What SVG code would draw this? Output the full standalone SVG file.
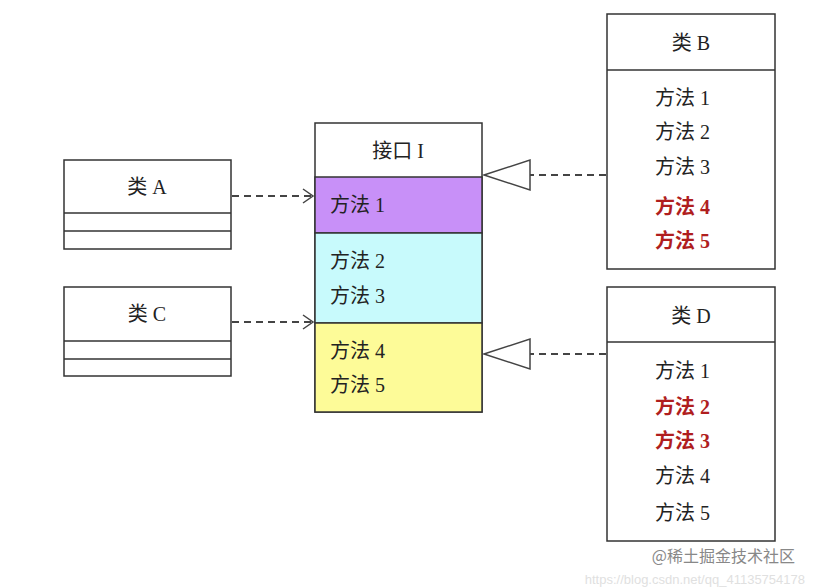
<svg xmlns="http://www.w3.org/2000/svg" width="814" height="588" viewBox="0 0 814 588">
<style>
.b{fill:#fff;stroke:#333;stroke-width:1.5}
.t{font-family:"Liberation Serif","Noto Sans CJK SC",serif;font-size:20px;fill:#222}
.r{fill:#b01e1e;font-weight:bold}
.c{stroke:#444;stroke-width:1.8;stroke-dasharray:7,5;fill:none}
.h{stroke:#444;stroke-width:1.5;fill:#fff}
</style>
<rect width="814" height="588" fill="#fff"/>
<g id="interfaceI">
<rect x="315" y="123" width="167" height="289" class="b"/>
<rect x="315" y="177" width="167" height="56" fill="#c890f8" stroke="#333" stroke-width="1.5"/>
<rect x="315" y="233" width="167" height="90" fill="#c8fafc" stroke="#333" stroke-width="1.5"/>
<rect x="315" y="323" width="167" height="89" fill="#fdfb98" stroke="#333" stroke-width="1.5"/>
<text x="398" y="158" class="t" text-anchor="middle">接口 I</text>
<text x="330" y="212" class="t">方法 1</text>
<text x="330" y="268" class="t">方法 2</text>
<text x="330" y="303" class="t">方法 3</text>
<text x="330" y="358" class="t">方法 4</text>
<text x="330" y="392" class="t">方法 5</text>
</g>
<g id="classA">
<rect x="64" y="160" width="167" height="89" class="b"/>
<line x1="64" y1="213" x2="231" y2="213" stroke="#333" stroke-width="1.5"/>
<line x1="64" y1="231" x2="231" y2="231" stroke="#333" stroke-width="1.5"/>
<text x="147" y="194" class="t" text-anchor="middle">类 A</text>
</g>
<g id="classC">
<rect x="64" y="287" width="167" height="89" class="b"/>
<line x1="64" y1="341" x2="231" y2="341" stroke="#333" stroke-width="1.5"/>
<line x1="64" y1="359" x2="231" y2="359" stroke="#333" stroke-width="1.5"/>
<text x="147" y="321" class="t" text-anchor="middle">类 C</text>
</g>
<g id="classB">
<rect x="607" y="14" width="168" height="255" class="b"/>
<line x1="607" y1="70" x2="775" y2="70" stroke="#333" stroke-width="1.5"/>
<text x="691" y="50" class="t" text-anchor="middle">类 B</text>
<text x="655" y="105" class="t">方法 1</text>
<text x="655" y="139" class="t">方法 2</text>
<text x="655" y="174" class="t">方法 3</text>
<text x="655" y="214" class="t r">方法 4</text>
<text x="655" y="248" class="t r">方法 5</text>
</g>
<g id="classD">
<rect x="607" y="287" width="168" height="254" class="b"/>
<line x1="607" y1="342" x2="775" y2="342" stroke="#333" stroke-width="1.5"/>
<text x="691" y="323" class="t" text-anchor="middle">类 D</text>
<text x="655" y="378" class="t">方法 1</text>
<text x="655" y="414" class="t r">方法 2</text>
<text x="655" y="448" class="t r">方法 3</text>
<text x="655" y="483" class="t">方法 4</text>
<text x="655" y="520" class="t">方法 5</text>
</g>
<g id="connectors">
<path d="M232 196H311" class="c"/>
<path d="M303 189L313 196L303 203" fill="none" stroke="#444" stroke-width="1.5"/>
<path d="M232 322H311" class="c"/>
<path d="M303 315L313 322L303 329" fill="none" stroke="#444" stroke-width="1.5"/>
<path d="M606 175H530" class="c"/>
<path d="M484 175L530 160V190Z" class="h"/>
<path d="M606 354H530" class="c"/>
<path d="M484 354L530 339V369Z" class="h"/>
</g>
<text x="795" y="562" font-family="'Noto Sans CJK SC',sans-serif" font-size="16" fill="#888" text-anchor="end">@稀土掘金技术社区</text>
<text x="805" y="584" font-family="'Liberation Sans',sans-serif" font-size="13" fill="#ccc" text-anchor="end" opacity="0.6">https://blog.csdn.net/qq_41135754178</text>
</svg>
